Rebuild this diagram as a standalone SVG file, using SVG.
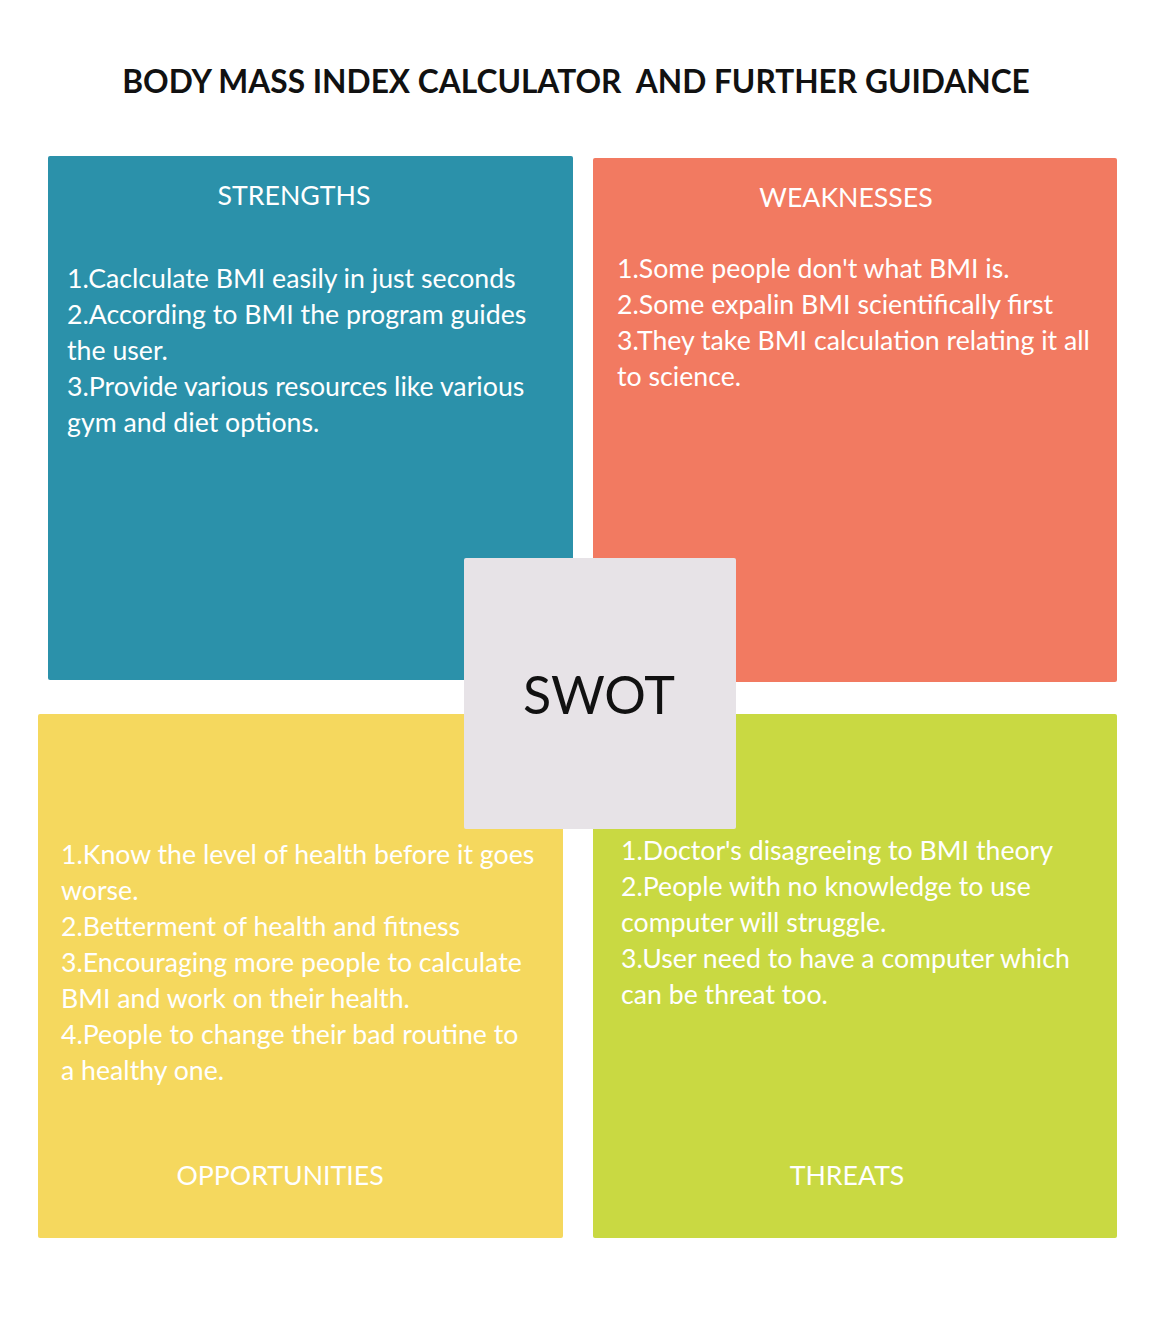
<svg xmlns="http://www.w3.org/2000/svg" width="1167" height="1318" viewBox="0 0 1167 1318">
  <style>
    .txt { font-family: Lato, "Open Sans", "Liberation Sans", sans-serif; fill: #ffffff; font-size: 26.7px; }
    .head { text-anchor: middle; }
    .title { font-family: Lato, "Liberation Sans", sans-serif; font-size: 31.7px; font-weight: 700; fill: #111111; text-anchor: middle; white-space: pre; }
    .swot { font-family: Lato, "Liberation Sans", sans-serif; font-size: 52px; font-weight: 400; fill: #111111; text-anchor: middle; }
  </style>
  <rect width="1167" height="1318" fill="#ffffff"/>

  <text class="title" x="576" y="93" xml:space="preserve">BODY MASS INDEX CALCULATOR  AND FURTHER GUIDANCE</text>

  <g id="strengths">
    <rect x="48" y="156" width="525" height="524" rx="2" fill="#2b91aa"/>
    <text class="txt head" x="294" y="205">STRENGTHS</text>
    <text class="txt" x="67" y="288">1.Caclculate BMI easily in just seconds</text>
    <text class="txt" x="67" y="324">2.According to BMI the program guides</text>
    <text class="txt" x="67" y="360">the user.</text>
    <text class="txt" x="67" y="396">3.Provide various resources like various</text>
    <text class="txt" x="67" y="432">gym and diet options.</text>
  </g>

  <g id="weaknesses">
    <rect x="593" y="158" width="524" height="524" rx="2" fill="#f27a61"/>
    <text class="txt head" x="846" y="207">WEAKNESSES</text>
    <text class="txt" x="617" y="278">1.Some people don't what BMI is.</text>
    <text class="txt" x="617" y="314">2.Some expalin BMI scientifically first</text>
    <text class="txt" x="617" y="350">3.They take BMI calculation relating it all</text>
    <text class="txt" x="617" y="386">to science.</text>
  </g>

  <g id="opportunities">
    <rect x="38" y="714" width="525" height="524" rx="2" fill="#f5d85e"/>
    <text class="txt" x="61" y="864">1.Know the level of health before it goes</text>
    <text class="txt" x="61" y="900">worse.</text>
    <text class="txt" x="61" y="936">2.Betterment of health and fitness</text>
    <text class="txt" x="61" y="972">3.Encouraging more people to calculate</text>
    <text class="txt" x="61" y="1008">BMI and work on their health.</text>
    <text class="txt" x="61" y="1044">4.People to change their bad routine to</text>
    <text class="txt" x="61" y="1080">a healthy one.</text>
    <text class="txt head" x="280" y="1185">OPPORTUNITIES</text>
  </g>

  <g id="threats">
    <rect x="593" y="714" width="524" height="524" rx="2" fill="#c9d942"/>
    <text class="txt" x="621" y="860">1.Doctor's disagreeing to BMI theory</text>
    <text class="txt" x="621" y="896">2.People with no knowledge to use</text>
    <text class="txt" x="621" y="932">computer will struggle.</text>
    <text class="txt" x="621" y="968">3.User need to have a computer which</text>
    <text class="txt" x="621" y="1004">can be threat too.</text>
    <text class="txt head" x="847" y="1185">THREATS</text>
  </g>

  <g id="swot">
    <rect x="464" y="558" width="272" height="271" rx="2" fill="#e7e3e7"/>
    <text class="swot" x="599" y="714">SWOT</text>
  </g>

  <g id="connectors"></g>
</svg>
